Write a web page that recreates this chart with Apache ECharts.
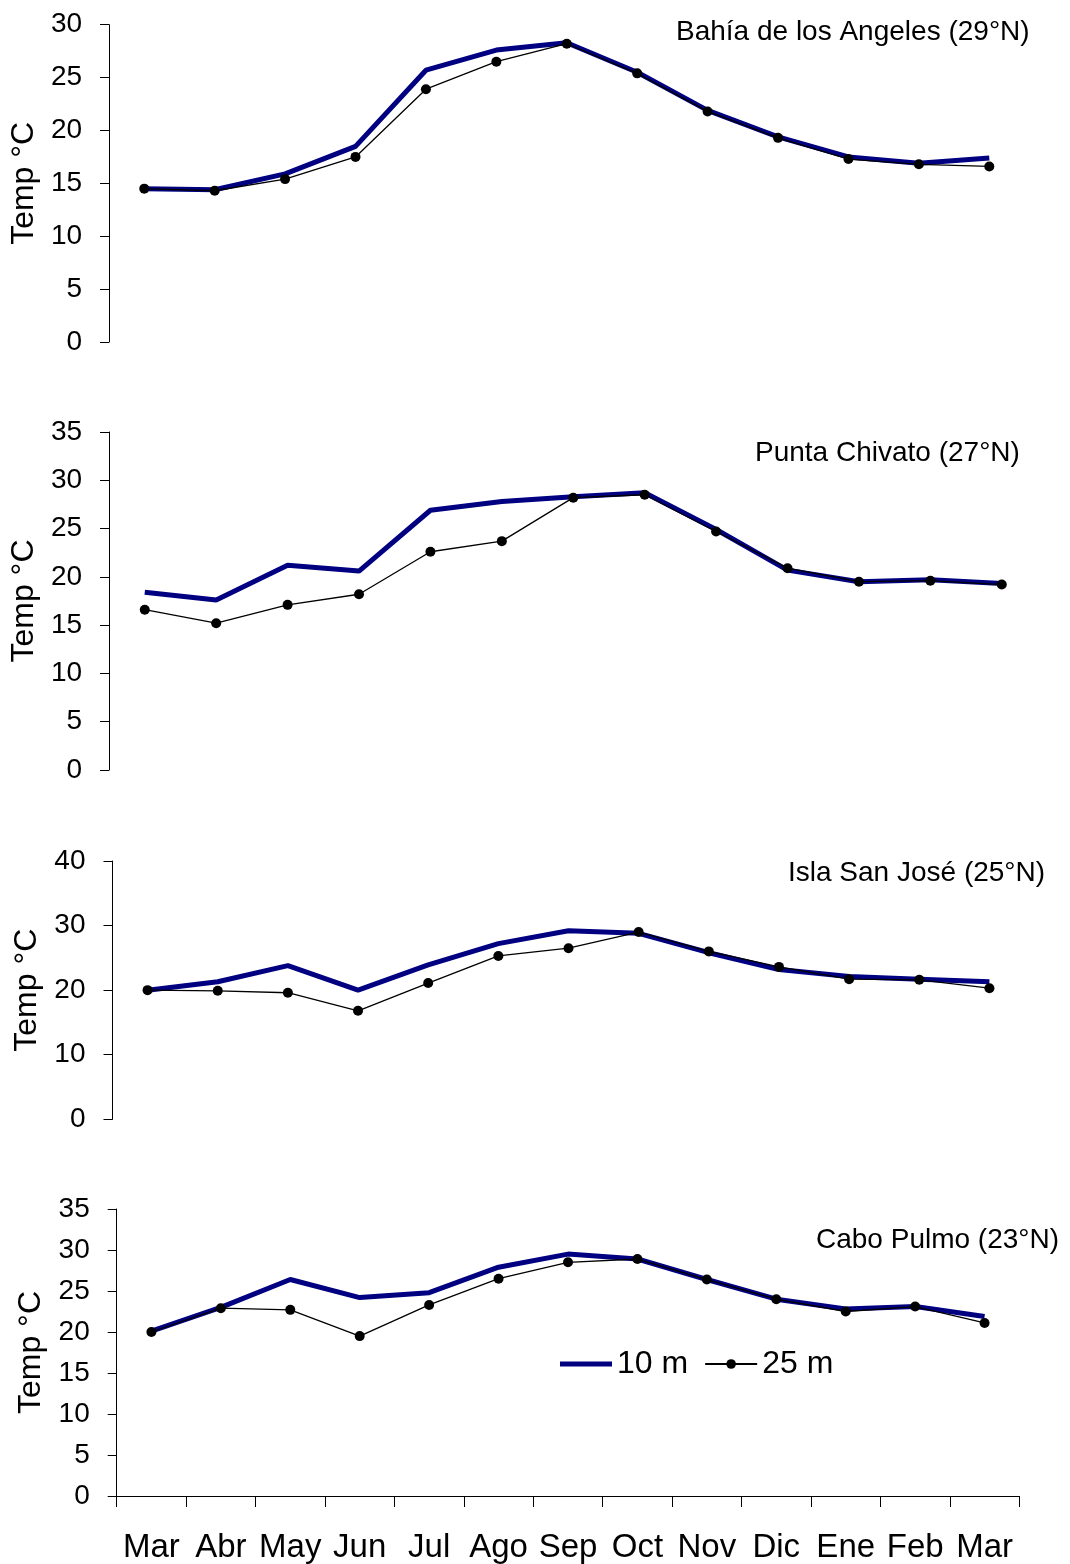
<!DOCTYPE html>
<html>
<head>
<meta charset="utf-8">
<script src="https://cdn.jsdelivr.net/npm/echarts@6/dist/echarts.min.js"></script>
<style>
  html, body { margin: 0; padding: 0; background: #fff; }
  #chart { width: 1070px; height: 1564px; }
</style>
</head>
<body>
<div id="chart"></div>
<script>
// Monthly mean temperature (°C) at 10 m and 25 m depth, four sites in the Gulf of California
const months = ['Mar', 'Abr', 'May', 'Jun', 'Jul', 'Ago', 'Sep', 'Oct', 'Nov', 'Dic', 'Ene', 'Feb', 'Mar'];

const siteNames = ['Bahía de los Angeles (29°N)', 'Punta Chivato (27°N)', 'Isla San José (25°N)', 'Cabo Pulmo (23°N)'];

const bahia10 = [14.5, 14.4, 15.9, 18.5, 25.7, 27.6, 28.3, 25.5, 21.9, 19.4, 17.5, 16.9, 17.4];
const bahia25 = [14.5, 14.3, 15.4, 17.5, 23.9, 26.5, 28.2, 25.4, 21.8, 19.3, 17.3, 16.8, 16.6];

const chivato10 = [18.4, 17.6, 21.2, 20.6, 26.9, 27.8, 28.3, 28.7, 24.9, 20.7, 19.5, 19.7, 19.3];
const chivato25 = [16.6, 15.2, 17.1, 18.2, 22.6, 23.7, 28.2, 28.5, 24.7, 20.9, 19.5, 19.6, 19.2];

const sanjose10 = [20.0, 21.3, 23.8, 20.0, 23.9, 27.2, 29.2, 28.8, 25.8, 23.2, 22.1, 21.7, 21.3];
const sanjose25 = [20.0, 19.9, 19.6, 16.8, 21.1, 25.3, 26.5, 29.0, 26.0, 23.6, 21.7, 21.6, 20.3];

const pulmo10 = [20.1, 23.0, 26.4, 24.2, 24.8, 27.9, 29.5, 28.9, 26.4, 24.0, 22.8, 23.1, 21.9];
const pulmo25 = [20.0, 22.9, 22.7, 19.5, 23.3, 26.5, 28.5, 28.9, 26.4, 24.0, 22.5, 23.1, 21.1];

// y-axis ranges for each panel
const yMax = [30, 35, 40, 35];
const yStep = [5, 5, 10, 5];

const shallow = [bahia10, chivato10, sanjose10, pulmo10];
const deep = [bahia25, chivato25, sanjose25, pulmo25];

// panel geometry (pixels)
const panels = [
  { left: 98.7, right: 45.5, top: 24.7, height: 317.3, titleLeft: 676, titleTop: 18 },
  { left: 105.5, right: 32.5, top: 432, height: 338, titleLeft: 755, titleTop: 439 },
  { left: 112.5, right: 45.5, top: 861, height: 258.3, titleLeft: 788, titleTop: 859 },
  { left: 116.7, right: 50.7, top: 1209, height: 288.5, titleLeft: 816, titleTop: 1226 }
];

const FONT = '"Liberation Sans", Arial, Helvetica, sans-serif';
const NAVY = '#000080';

const grids = [], xAxes = [], yAxes = [], series = [], titles = [];

panels.forEach((p, i) => {
  const isLast = i === panels.length - 1;
  grids.push({ left: p.left, right: p.right, top: p.top, height: p.height, containLabel: false });

  xAxes.push({
    type: 'category',
    gridIndex: i,
    data: months,
    boundaryGap: true,
    axisLine: { show: isLast, onZero: false, lineStyle: { color: '#000', width: 1 } },
    axisTick: { show: isLast, length: 11, interval: 0, lineStyle: { color: '#000', width: 1 } },
    axisLabel: {
      show: isLast, interval: 0, margin: 35,
      color: '#000', fontSize: 33, fontFamily: FONT
    },
    splitLine: { show: false }
  });

  yAxes.push({
    type: 'value',
    gridIndex: i,
    min: 0,
    max: yMax[i],
    interval: yStep[i],
    name: 'Temp °C',
    nameLocation: 'middle',
    nameRotate: 90,
    nameGap: p.left - 57,
    nameTextStyle: { color: '#000', fontSize: 32, fontFamily: FONT },
    axisLine: { show: true, lineStyle: { color: '#000', width: 1 } },
    axisTick: { show: true, length: 9, lineStyle: { color: '#000', width: 1 } },
    axisLabel: { color: '#000', fontSize: 28, fontFamily: FONT, margin: 27 },
    splitLine: { show: false }
  });

  series.push({
    name: '10 m',
    type: 'line',
    xAxisIndex: i,
    yAxisIndex: i,
    data: shallow[i],
    symbol: 'none',
    lineStyle: { color: NAVY, width: 5 },
    itemStyle: { color: NAVY },
    z: 2
  });
  series.push({
    name: '25 m',
    type: 'line',
    xAxisIndex: i,
    yAxisIndex: i,
    data: deep[i],
    symbol: 'circle',
    symbolSize: 10,
    lineStyle: { color: '#000', width: 1.3 },
    itemStyle: { color: '#000' },
    z: 3
  });

  titles.push({
    text: siteNames[i],
    left: p.titleLeft,
    top: p.titleTop,
    padding: 0,
    textStyle: { color: '#000', fontSize: 28, fontWeight: 'normal', fontFamily: FONT }
  });
});

const chart = echarts.init(document.getElementById('chart'), null, { renderer: 'canvas' });
chart.setOption({
  animation: false,
  backgroundColor: '#fff',
  title: titles,
  grid: grids,
  xAxis: xAxes,
  yAxis: yAxes,
  legend: {
    data: [
      // plain thick bar for the 10 m line (no marker)
      { name: '10 m', icon: 'path://M0,0H52V5H0Z', itemStyle: { color: NAVY } },
      { name: '25 m' }
    ],
    left: 560,
    top: 1348,
    padding: 0,
    itemWidth: 52,
    itemHeight: 12,
    itemGap: 16,
    selectedMode: false,
    textStyle: { color: '#000', fontSize: 32, fontFamily: FONT }
  },
  series: series
});
</script>
</body>
</html>
